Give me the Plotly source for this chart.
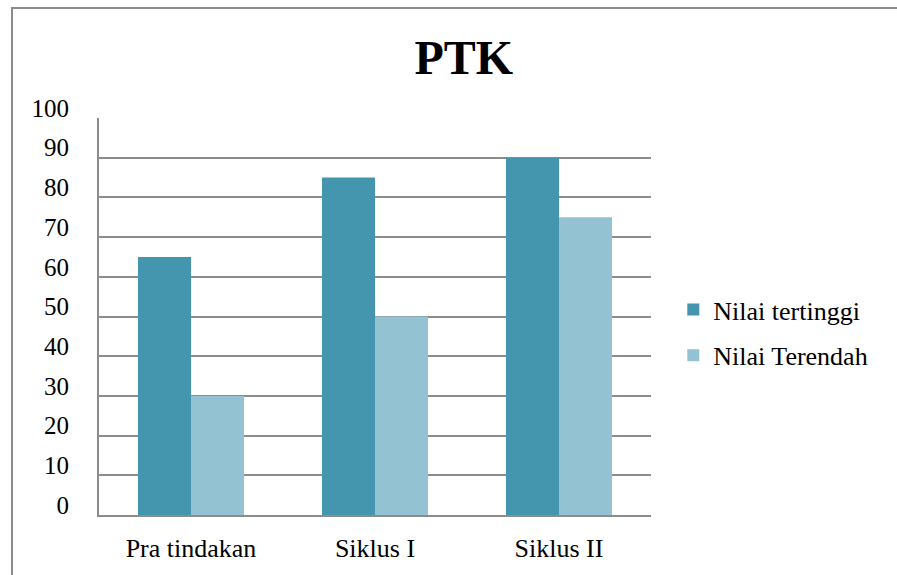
import plotly.graph_objects as go

categories = ["Pra tindakan", "Siklus I", "Siklus II"]
nilai_tertinggi = [65, 85, 90]
nilai_terendah = [30, 50, 75]
y_ticks = [0, 10, 20, 30, 40, 50, 60, 70, 80, 90, 100]

FONT = "Liberation Serif, Times New Roman, serif"
GRID = "#8c8c8c"

fig = go.Figure()
fig.add_trace(go.Bar(x=categories, y=nilai_tertinggi, name="Nilai tertinggi",
                     marker=dict(color="#4396ae", line=dict(width=0)), legendgroup="a"))
fig.add_trace(go.Bar(x=categories, y=nilai_terendah, name="Nilai Terendah",
                     marker=dict(color="#93c3d2", line=dict(width=0)), legendgroup="b"))

fig.update_layout(
    template="none",
    width=897, height=575,
    margin=dict(l=99, r=246, t=118, b=60, autoexpand=False),
    paper_bgcolor="white", plot_bgcolor="white",
    font=dict(family=FONT, size=26, color="#000000"),
    title=dict(text="<b>PTK</b>", x=0.517, xref="container", xanchor="center",
               y=1 - 57 / 575, yref="container", yanchor="middle",
               font=dict(family=FONT, size=48, color="#000000")),
    barmode="group", bargap=0.424, bargroupgap=0,
    showlegend=True,
    legend=dict(x=1.0404, xanchor="left", y=0.4596, yanchor="middle",
                traceorder="grouped", tracegroupgap=9,
                font=dict(family=FONT, size=26, color="#000000"),
                bgcolor="rgba(0,0,0,0)", itemwidth=30),
    xaxis=dict(showline=True, linecolor=GRID, linewidth=2, ticks="",
               showgrid=False, ticklabelstandoff=9, automargin=False,
               tickfont=dict(family=FONT, size=26, color="#000000")),
    yaxis=dict(range=[0, 100], tickvals=y_ticks, ticktext=[str(v) for v in y_ticks],
               showline=True, linecolor=GRID, linewidth=2, ticks="",
               showgrid=True, gridcolor=GRID, gridwidth=2, zeroline=False,
               ticklabelstandoff=23, ticklabelshift=-10, automargin=False,
               tickfont=dict(family=FONT, size=25, color="#000000")),
    shapes=[dict(type="rect", xref="paper", yref="paper",
                 x0=(12 - 99) / 552, x1=1.6, y0=-0.5, y1=1 + (118 - 8) / 397,
                 line=dict(color="#8c8c8c", width=2), fillcolor="rgba(0,0,0,0)",
                 layer="below")],
)

fig.write_html("out.html", config={"displayModeBar": False},
               post_script="document.body.style.margin='0';")
